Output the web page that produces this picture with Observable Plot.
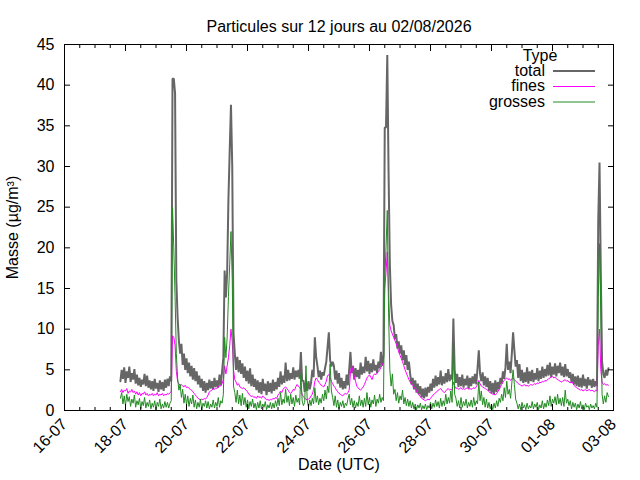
<!DOCTYPE html>
<html><head><meta charset="utf-8">
<script src="https://cdn.jsdelivr.net/npm/d3@7"></script>
<script src="https://cdn.jsdelivr.net/npm/@observablehq/plot@0.6"></script>
<style>
body{margin:0;background:#fff;font-family:"Liberation Sans",Arial,sans-serif;}
#wrap{position:relative;width:640px;height:480px;}
#wrap svg.leg{position:absolute;left:0;top:0;pointer-events:none;}
</style></head><body><div id="wrap"></div>
<script>
const titleText = "Particules sur 12 jours au 02/08/2026";
const startTime = "2026-07-17T20:00:00Z";
const stepHours = 1;

// hourly values from 17-07 20:00 UTC, 12 per row
const total = [
3.6,5.0,3.9,5.3,3.4,4.8,4.0,5.4,3.5,4.6,3.8,5.1,
3.3,4.4,3.1,4.0,2.9,3.8,3.2,4.5,3.0,4.3,2.8,3.7,
2.6,3.6,2.4,3.9,2.7,3.4,2.3,3.7,2.6,3.5,2.4,3.8,
2.8,3.9,3.0,4.2,3.6,40.8,40.8,39.0,16.0,11.4,8.6,7.0,
8.2,5.6,7.0,5.0,6.4,4.6,5.9,4.2,5.5,3.8,5.2,3.6,
4.8,3.2,4.3,2.8,3.9,2.4,3.6,2.2,3.4,2.5,3.8,2.7,
3.6,2.6,4.0,2.9,3.7,2.8,4.4,3.1,4.8,6.5,17.2,13.9,
17.0,26.0,32.0,37.6,30.0,9.5,7.0,5.0,6.6,4.7,6.2,4.5,
5.8,4.0,5.4,3.6,4.9,3.3,5.2,3.0,4.4,2.9,3.9,2.5,
3.7,2.2,3.5,2.0,3.9,2.4,3.3,1.9,3.6,2.3,3.4,2.1,
3.8,2.4,3.5,2.6,4.0,2.9,4.8,3.2,4.3,3.4,5.9,3.6,
5.0,3.7,4.6,3.9,5.3,3.8,4.9,4.1,5.0,3.9,7.2,3.6,
3.7,2.3,3.5,2.4,3.6,2.6,3.4,5.0,4.1,9.0,6.6,5.5,
4.1,4.9,3.8,4.7,4.3,5.2,6.0,7.8,9.6,6.2,5.4,6.0,
5.5,3.8,4.9,3.3,4.6,2.8,4.0,2.6,3.6,2.7,4.4,3.1,
5.0,7.2,4.6,5.5,3.8,5.2,4.1,5.0,3.9,5.9,4.4,5.4,
4.6,6.6,4.8,6.1,4.5,5.8,4.7,6.3,4.9,5.6,4.6,6.0,
5.2,7.2,5.5,6.8,34.8,34.8,43.7,29.3,18.0,13.0,11.0,10.5,
8.8,9.4,7.6,8.5,7.0,8.0,6.2,7.4,5.6,6.8,5.0,6.0,
4.5,3.2,4.0,2.6,3.7,2.2,3.3,2.0,3.0,1.6,2.7,1.5,
2.8,1.7,2.9,2.2,3.3,2.4,3.9,2.8,4.3,3.0,4.1,3.2,
4.9,3.1,4.2,3.3,4.6,3.5,5.1,3.6,4.4,3.8,11.3,5.0,
3.4,4.5,2.9,4.1,3.0,4.4,2.8,3.9,3.1,4.3,2.7,4.0,
3.0,4.2,3.3,4.5,3.2,5.2,7.4,4.5,3.6,4.7,3.1,4.2,
2.9,4.0,2.4,3.6,2.1,3.4,2.0,3.7,2.3,3.5,2.6,4.0,
3.3,4.8,3.9,5.3,8.2,5.0,6.0,4.6,7.0,9.6,7.4,5.4,
6.2,4.0,5.7,3.6,5.0,3.4,4.7,3.5,5.3,3.3,4.8,3.6,
5.0,3.5,4.6,3.8,5.2,3.6,4.9,3.9,5.4,4.0,5.1,4.2,
5.6,4.3,5.9,4.1,5.4,4.4,5.8,4.2,5.5,4.6,5.9,4.3,
5.4,4.1,5.7,4.2,5.1,4.0,4.7,3.4,4.5,3.2,4.2,3.0,
4.3,2.9,4.0,2.8,4.4,3.0,3.9,2.7,4.1,3.1,3.8,2.8,
3.9,2.9,3.6,3.0,23.4,30.5,17.0,6.0,4.5,4.0,5.0,4.3,
5.2];

const fines = [
2.3,2.6,2.2,2.5,2.4,2.7,2.1,2.4,2.3,2.6,2.2,2.4,
2.0,2.3,1.9,2.2,1.8,2.1,2.0,2.3,1.9,2.1,1.8,2.0,
1.9,2.1,1.8,2.0,1.9,2.2,1.8,2.0,1.9,2.1,1.8,2.0,
1.9,2.1,2.0,2.2,2.3,9.2,9.0,8.0,4.8,3.6,3.3,3.1,
3.2,3.0,2.9,3.1,2.8,2.9,2.7,2.6,2.5,2.3,2.1,1.9,
1.7,1.5,1.4,1.3,1.4,1.3,1.5,1.4,1.6,1.9,2.3,2.4,
2.5,2.7,2.6,2.8,2.7,2.9,3.1,3.0,3.3,3.8,5.5,4.5,
5.5,6.5,8.0,10.0,8.5,5.0,3.8,3.5,3.1,3.3,2.9,2.8,
2.7,2.8,2.6,2.5,2.3,2.0,1.9,1.7,1.8,1.6,1.7,1.5,
1.8,1.6,1.7,1.5,1.8,1.6,1.5,1.3,1.4,1.2,1.4,1.3,
1.5,1.4,1.6,1.5,1.9,2.1,2.4,2.2,2.6,2.8,2.9,2.7,
2.5,2.2,2.1,2.3,2.6,2.5,2.9,3.2,3.0,2.8,2.6,2.0,
1.7,1.5,1.4,1.3,1.4,1.5,1.8,2.0,2.6,3.6,4.0,3.8,
3.5,3.3,3.1,3.0,2.9,3.2,3.6,4.3,4.4,4.0,3.6,3.3,
3.0,2.8,2.5,2.3,2.1,2.0,1.9,1.8,2.0,2.1,2.0,2.2,
2.5,4.6,5.5,4.8,4.2,3.6,3.0,2.8,2.6,2.5,2.7,2.9,
3.2,3.6,4.0,4.2,4.4,4.1,3.8,4.3,4.5,4.4,4.6,4.8,
5.0,5.3,5.6,5.9,15.0,17.0,19.5,14.5,10.5,9.8,9.4,9.0,
8.6,8.2,7.8,7.2,6.8,6.4,6.0,5.5,5.0,4.6,4.2,3.8,
3.5,3.3,3.1,2.9,2.7,2.4,2.1,1.9,1.7,1.5,1.4,1.3,
1.2,1.3,1.4,1.3,1.5,1.7,1.9,2.0,2.2,2.3,2.5,2.6,
2.7,2.5,2.3,2.2,2.4,2.6,2.7,2.5,2.6,2.5,3.5,3.0,
2.7,2.8,2.6,2.7,2.8,2.6,2.7,2.6,2.7,2.8,2.6,2.7,
2.6,2.7,2.8,2.7,2.9,3.2,3.7,3.3,3.0,2.9,2.8,2.7,
2.6,2.5,2.3,2.2,2.1,2.0,2.0,1.9,2.1,2.3,2.6,2.9,
3.2,3.5,3.7,3.9,4.0,3.8,3.9,3.7,3.9,4.0,3.8,3.6,
3.5,3.3,3.2,3.1,3.0,3.1,3.2,3.0,3.1,3.0,3.1,3.2,
3.1,3.2,3.3,3.2,3.4,3.3,3.5,3.4,3.6,3.5,3.7,3.6,
3.8,3.9,4.0,4.1,4.2,4.0,4.1,3.9,3.8,3.7,3.6,3.5,
3.6,3.7,3.8,3.6,3.7,3.5,3.4,3.6,3.3,3.1,2.9,2.8,
2.7,2.6,2.5,2.6,2.4,2.5,2.6,2.4,2.5,2.6,2.4,2.5,
2.4,2.3,2.5,2.4,8.0,10.0,5.0,3.5,3.2,3.3,3.1,3.2,
3.1];

const grosses = [
1.5,2.2,0.8,1.8,0.6,2.0,1.1,1.7,0.5,1.4,0.9,1.9,
0.4,1.2,0.7,1.5,0.2,1.1,0.6,1.6,0.3,1.0,0.5,1.3,
0.2,0.9,0.4,1.2,0.1,1.0,0.5,1.4,0.2,0.8,0.3,1.1,
0.4,1.0,0.3,0.9,1.2,25.0,20.0,14.0,7.0,4.0,2.5,3.2,
1.6,2.6,0.9,2.0,0.7,1.8,0.5,1.5,0.8,1.9,0.4,1.3,
0.2,1.0,0.4,1.4,0.1,0.9,0.5,1.2,0.3,1.1,0.2,0.8,
0.4,1.3,0.3,1.0,0.5,1.6,0.4,1.2,0.9,2.0,9.0,6.5,
9.0,14.0,18.0,22.0,16.0,3.0,2.2,1.0,2.5,0.8,1.9,0.6,
2.1,0.7,1.6,0.4,1.3,0.2,1.1,0.5,1.4,0.3,0.9,0.1,
1.0,0.3,1.2,0.2,0.8,0.4,1.1,0.1,0.7,0.3,1.0,0.2,
0.9,0.3,1.2,0.5,1.5,0.6,2.2,0.7,1.4,0.9,2.6,1.0,
1.8,0.6,2.0,0.8,1.6,0.5,1.9,1.0,1.5,0.7,4.5,1.2,
0.6,1.0,5.5,1.2,0.4,1.3,0.6,1.5,0.8,2.8,1.0,1.8,
0.7,1.5,0.9,2.0,1.2,2.5,1.4,3.0,2.2,5.7,2.4,1.6,
0.6,1.8,0.4,1.3,0.2,1.0,0.5,1.2,0.3,0.9,0.6,1.4,
2.0,0.7,1.5,0.4,1.2,0.3,1.0,0.5,1.8,0.6,1.3,0.4,
1.5,0.5,2.2,0.7,1.6,0.4,1.3,0.8,1.9,0.5,1.4,0.9,
2.0,1.0,1.6,1.2,16.0,20.0,24.6,12.0,5.0,3.0,4.5,2.0,
2.6,1.2,2.2,0.9,1.8,1.3,2.5,0.8,1.6,0.6,1.4,0.5,
1.2,0.3,1.0,0.2,0.8,0.1,0.7,0.3,0.9,0.1,0.6,0.2,
0.8,0.1,0.6,0.3,1.0,0.2,0.9,0.4,1.3,0.5,1.1,0.3,
1.5,0.5,1.2,0.6,2.0,0.8,1.6,0.9,2.4,1.0,8.4,2.0,
1.5,0.5,1.2,0.3,1.6,0.4,1.1,0.6,1.4,0.3,1.0,0.5,
1.3,0.4,1.6,0.6,1.2,0.8,3.5,1.2,2.4,0.7,1.6,0.4,
1.4,0.3,1.0,0.2,0.8,0.1,0.9,0.3,1.2,0.5,1.5,1.0,
2.0,1.2,2.8,1.6,3.6,2.0,2.6,1.5,3.4,5.0,3.2,1.4,
0.9,0.2,0.8,0.1,1.0,0.3,0.7,0.1,0.9,0.2,0.6,0.3,
1.1,0.2,0.8,0.4,1.0,0.1,0.7,0.3,1.2,0.2,0.9,0.4,
1.3,0.6,1.8,0.5,1.4,0.9,1.7,0.7,2.0,0.8,1.5,0.6,
1.6,0.5,2.5,0.9,1.4,0.6,1.2,0.2,1.0,0.4,0.9,0.1,
0.8,0.3,1.1,0.2,0.7,0.1,0.9,0.4,0.6,0.1,0.8,0.3,
0.6,0.2,0.9,0.4,14.0,20.5,12.0,2.0,0.8,1.8,1.0,2.2,
1.7];

const seriesNames = ["total", "fines", "grosses"];
const seriesColors = ["#666666", "#ff00ff", "#228b22"];
const seriesWidths = [2, 1, 1];
const xTickLabels = ["2026-07-16","2026-07-18","2026-07-20","2026-07-22","2026-07-24",
  "2026-07-26","2026-07-28","2026-07-30","2026-08-01","2026-08-03"];
const yTicks = [0,5,10,15,20,25,30,35,40,45];
const xDomain = ["2026-07-16", "2026-08-03"];
const yDomain = [0, 45];

const t0 = new Date(startTime);
const seriesValues = [total, fines, grosses];
const seriesRows = seriesValues.map((vals, k) =>
  vals.map((v, i) => ({date: d3.utcHour.offset(t0, i * stepHours), value: v, type: seriesNames[k]})));
const toDate = s => new Date(s + "T00:00:00Z");
const xTicks = xTickLabels.map(toDate);

const font = "'Liberation Sans', Arial, sans-serif";

const chart = Plot.plot({
  width: 640, height: 480,
  marginTop: 44, marginRight: 27, marginBottom: 70, marginLeft: 64,
  style: {fontFamily: font, fontSize: "16px", background: "white", color: "black", overflow: "visible"},
  x: {type: "utc", domain: xDomain.map(toDate)},
  y: {domain: yDomain},
  marks: [
    ...seriesRows.map((rows, k) => Plot.line(rows, {x: "date", y: "value", stroke: seriesColors[k], strokeWidth: seriesWidths[k], strokeLinejoin: "miter"})),
    Plot.axisX({ticks: xTicks, tickFormat: d3.utcFormat("%d-%m"), tickRotate: -45, tickSize: 0, tickPadding: 11,
      label: "Date (UTC)", labelAnchor: "center", labelArrow: "none", labelOffset: 59}),
    Plot.axisX({ticks: xTicks, tickSize: -6, text: null, label: null}),
    Plot.axisX({anchor: "top", ticks: xTicks, tickSize: -6, text: null, label: null}),
    Plot.axisX({ticks: d3.utcHour.every(12), tickSize: -3, text: null, label: null}),
    Plot.axisX({anchor: "top", ticks: d3.utcHour.every(12), tickSize: -3, text: null, label: null}),
    Plot.axisY({ticks: yTicks, tickSize: 0, tickPadding: 10, label: "Masse (µg/m³)", labelAnchor: "center", labelArrow: "none", labelOffset: 58}),
    Plot.axisY({ticks: yTicks, tickSize: -6, text: null, label: null}),
    Plot.axisY({anchor: "right", ticks: yTicks, tickSize: -6, text: null, label: null}),
    Plot.frame({stroke: "black", strokeWidth: 1}),
    Plot.text([titleText], {text: d => d, frameAnchor: "top", dy: -24, fontSize: 16})
  ]
});

const wrap = document.getElementById("wrap");
wrap.appendChild(chart);

// legend overlay
const leg = d3.select(wrap).append("svg").attr("class", "leg")
  .attr("width", 640).attr("height", 480)
  .attr("font-family", font).attr("font-size", 16);
leg.append("text").attr("x", 540).attr("y", 55).attr("text-anchor", "middle").attr("dy", "0.35em").text("Type");
seriesNames.forEach((name, k) => {
  const y = 70 + k * 15.5;
  leg.append("text").attr("x", 545).attr("y", y).attr("text-anchor", "end").attr("dy", "0.35em").text(name);
  leg.append("line").attr("x1", 553).attr("x2", 595).attr("y1", y + 1).attr("y2", y + 1)
    .attr("stroke", seriesColors[k]).attr("stroke-width", seriesWidths[k]);
});
</script></body></html>
